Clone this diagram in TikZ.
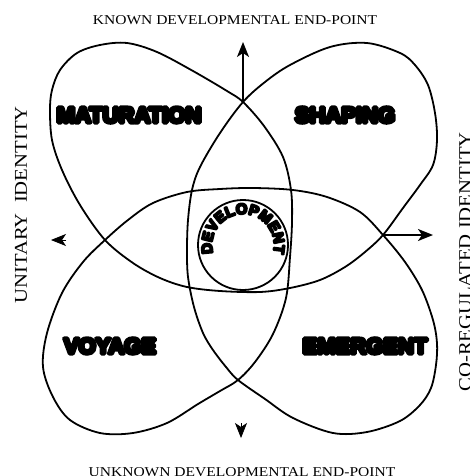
\documentclass[tikz,border=0pt]{standalone}
\usepackage{fontspec}
\usetikzlibrary{arrows.meta,decorations.text}
\newfontfamily\lblfont[FakeStretch=1.15]{Liberation Serif}
\newfontfamily\heavyfont[FakeBold=18]{Liberation Sans Bold}
\newfontfamily\devfont[FakeBold=14]{Liberation Sans Bold}
\begin{document}
\begin{tikzpicture}[x=1pt,y=-1pt,line width=1.8pt,line join=round,
  petal/.style={font=\heavyfont\fontsize{22}{24}\selectfont,inner sep=0},
  axislbl/.style={font=\lblfont\fontsize{13.5}{16}\selectfont,inner sep=0,anchor=base},
  sidelbl/.style={font=\lblfont\fontsize{18}{20}\selectfont,inner sep=0,rotate=90,anchor=base},
  tip/.style={-{Stealth[length=15pt,width=12pt,inset=4pt]}},
  lonetip/.style={line width=0.8pt,-{Stealth[length=15pt,width=12pt,inset=4pt]}}]
\useasboundingbox (0,0) rectangle (470,476);
% crossings
\coordinate (T) at (243,102);
\coordinate (L) at (105,240);
\coordinate (R) at (383,235);
\coordinate (B) at (238,380);
% four-petal closed curve
\draw plot[smooth cycle,tension=0.55] coordinates {
 (243,102) (227,91) (193,71) (157,52) (127,43) (100,45) (77,53) (60,70) (52,90) (50,110) (52,140) (62,170) (80,205)
 (105,240) (133,263) (160,278) (187,287) (220,291) (260,292) (290,288) (320,280) (345,267) (365,252)
 (383,235) (403,208) (420,185) (433,165) (437,140) (435,113) (428,85) (415,65) (400,53) (367,43) (330,47) (290,65) (265,82)
 (243,102) (220,133) (200,167) (192,190) (188,220) (187,250) (188,277) (194,307) (203,333) (213,350) (226,367)
 (238,380) (265,399) (293,418) (333,433) (367,432) (400,421) (420,405) (431,388) (436,365) (437,343) (433,320) (422,290) (405,262)
 (383,235) (360,212) (327,197) (293,190) (253,188) (220,189) (187,192) (153,203) (128,220)
 (105,240) (83,262) (62,293) (47,333) (43,367) (53,397) (70,420) (100,433) (133,433) (167,423) (198,404) (220,391)
 (238,380) (255,362) (273,334) (286,298) (290,257) (292,222) (291,190) (283,157) (264,126)
};
% central circle
\node[circle,draw,minimum size=90pt,inner sep=0] (dev) at (243,245) {};
\path[decorate,decoration={text along path,text align=center,
  text={|\devfont\fontsize{15}{15}\selectfont|DEVELOPMENT}}]
  (243,245) ++(156:31) arc[start angle=156,end angle=384,radius=31];
% petal labels
\node[petal] (mat) at (129,115) {MATURATION};
\node[petal] (sha) at (345,115) {SHAPING};
\node[petal] (voy) at (110,346) {VOYAGE};
\node[petal] (eme) at (365,346) {EMERGENT};
% axis labels
\node[axislbl] (known) at (235,25) {KNOWN DEVELOPMENTAL END-POINT};
\node[axislbl] (unknown) at (242,476) {UNKNOWN DEVELOPMENTAL END-POINT};
\node[sidelbl] (unit) at (27,205) {UNITARY\ \ IDENTITY};
\node[sidelbl] (coreg) at (471,262) {CO-REGULATED IDENTITY};
% arrows
\coordinate (topTip) at (243,42);
\coordinate (rightTip) at (433,235);
\coordinate (leftBase) at (66,240);
\coordinate (leftTip) at (51,240);
\coordinate (botBase) at (241,423);
\coordinate (botTip) at (241,438);
\draw[tip] (T) -- (topTip);
\draw[tip] (R) -- (rightTip);
\draw[lonetip] (leftBase) -- (leftTip);
\draw[lonetip] (botBase) -- (botTip);
\end{tikzpicture}
\end{document}
